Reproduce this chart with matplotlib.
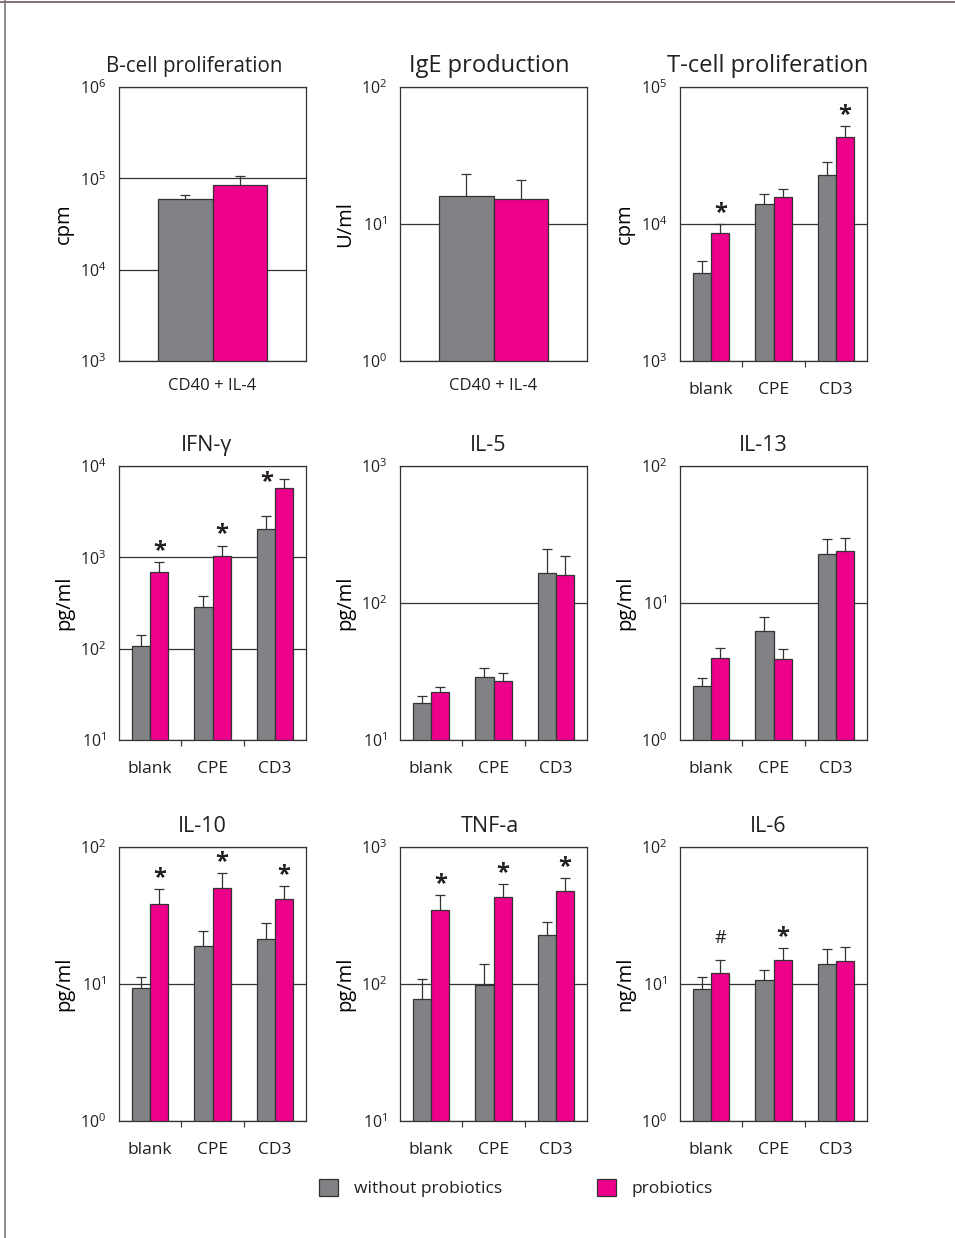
import numpy as np
import matplotlib
matplotlib.use("Agg")
import matplotlib.pyplot as plt
from matplotlib.ticker import LogLocator, NullLocator
from matplotlib.patches import Patch
from matplotlib.lines import Line2D

plt.rcParams['font.family'] = ['Open Sans', 'DejaVu Sans']
plt.rcParams['text.color'] = '#231f20'
plt.rcParams['xtick.color'] = '#3c3c3c'
plt.rcParams['ytick.color'] = '#3c3c3c'
plt.rcParams['xtick.labelcolor'] = '#231f20'
plt.rcParams['ytick.labelcolor'] = '#231f20'

GRAY = '#808285'
PINK = '#ec008c'
EDGE = '#333333'

stim_groups = ['blank', 'CPE', 'CD3']
stim_single = ['CD40 + IL-4']

# means and upper error (SD) for cultures without / with probiotics
bcell_without, bcell_without_sd = [59600], [6300]
bcell_with, bcell_with_sd = [85500], [20900]

ige_without, ige_without_sd = [16.0], [7.1]
ige_with, ige_with_sd = [15.3], [5.7]

tcell_without, tcell_without_sd = [4370, 13900, 22800], [970, 2650, 5700]
tcell_with, tcell_with_sd = [8550, 15800, 43400], [1400, 2100, 8300]
tcell_marks = ['*', '', '*']

ifng_without, ifng_without_sd = [107, 285, 2040], [34, 95, 770]
ifng_with, ifng_with_sd = [693, 1042, 5730], [201, 301, 1410]
ifng_marks = ['*', '*', '*']

il5_without, il5_without_sd = [18.5, 28.8, 165], [2.4, 4.7, 82]
il5_with, il5_with_sd = [22.5, 26.8, 159], [1.8, 4.2, 60]
il5_marks = ['', '', '']

il13_without, il13_without_sd = [2.49, 6.20, 22.9], [0.33, 1.74, 6.4]
il13_with, il13_with_sd = [3.99, 3.88, 24.1], [0.74, 0.72, 5.9]
il13_marks = ['', '', '']

il10_without, il10_without_sd = [9.42, 18.9, 21.3], [1.78, 5.3, 6.5]
il10_with, il10_with_sd = [38.4, 50.6, 41.5], [10.8, 14.2, 10.2]
il10_marks = ['*', '*', '*']

tnf_without, tnf_without_sd = [77.3, 97.8, 228], [30.7, 41.2, 55]
tnf_with, tnf_with_sd = [348, 433, 479], [95, 106, 114]
tnf_marks = ['*', '*', '*']

il6_without, il6_without_sd = [9.22, 10.7, 14.0], [1.98, 1.9, 3.9]
il6_with, il6_with_sd = [12.1, 14.9, 14.6], [2.9, 3.4, 4.1]
il6_marks = ['#', '*', '']

# title, y label, y range, groups, data..., title size, title x shift (px)
panels = [
    ('B-cell proliferation', 'cpm', (1e3, 1e6), stim_single,
     bcell_without, bcell_without_sd, bcell_with, bcell_with_sd, [''], 14.8, -18),
    ('IgE production', 'U/ml', (1e0, 1e2), stim_single,
     ige_without, ige_without_sd, ige_with, ige_with_sd, [''], 17, -4),
    ('T-cell proliferation', 'cpm', (1e3, 1e5), stim_groups,
     tcell_without, tcell_without_sd, tcell_with, tcell_with_sd, tcell_marks, 17, -6),
    ('IFN-γ', 'pg/ml', (1e1, 1e4), stim_groups,
     ifng_without, ifng_without_sd, ifng_with, ifng_with_sd, ifng_marks, 15.5, -6),
    ('IL-5', 'pg/ml', (1e1, 1e3), stim_groups,
     il5_without, il5_without_sd, il5_with, il5_with_sd, il5_marks, 15.5, -5),
    ('IL-13', 'pg/ml', (1e0, 1e2), stim_groups,
     il13_without, il13_without_sd, il13_with, il13_with_sd, il13_marks, 15.5, -10),
    ('IL-10', 'pg/ml', (1e0, 1e2), stim_groups,
     il10_without, il10_without_sd, il10_with, il10_with_sd, il10_marks, 15.5, -10),
    ('TNF-a', 'pg/ml', (1e1, 1e3), stim_groups,
     tnf_without, tnf_without_sd, tnf_with, tnf_with_sd, tnf_marks, 15.5, -4),
    ('IL-6', 'ng/ml', (1e0, 1e2), stim_groups,
     il6_without, il6_without_sd, il6_with, il6_with_sd, il6_marks, 15.5, -5),
]

W, H = 955, 1238
fig = plt.figure(figsize=(W / 100, H / 100), dpi=100)

col_left = [119, 400, 680]
row_top = [87, 466, 847]
ax_w, ax_h = 187, 274


def upper_errorbar(ax, xs, ys, err):
    eb = ax.errorbar(xs, ys, yerr=[np.zeros(len(xs)), err], fmt='none', ecolor=EDGE,
                     elinewidth=0.9, capsize=3.6, capthick=0.9, zorder=4)
    eb[1][0].set_visible(False)  # no cap at the bar top


w = 0.29
for i, (title, ylab, ylim, cats, m0, s0, m1, s1, marks, tsize, tshift) in enumerate(panels):
    r, c = divmod(i, 3)
    ax = fig.add_axes([col_left[c] / W, 1 - (row_top[r] + ax_h) / H, ax_w / W, ax_h / H])
    n = len(cats)
    x = np.arange(n) + 0.5
    ax.set_yscale('log')

    ax.bar(x - w / 2, m0, w, color=GRAY, edgecolor=EDGE, linewidth=0.9, zorder=2)
    ax.bar(x + w / 2, m1, w, color=PINK, edgecolor=EDGE, linewidth=0.9, zorder=2)
    m0, s0, m1, s1 = map(np.asarray, (m0, s0, m1, s1))
    upper_errorbar(ax, x - w / 2, m0, s0)
    upper_errorbar(ax, x + w / 2, m1, s1)
    ax.set_ylim(*ylim)
    ax.set_xlim(0, n)

    # significance marks over the probiotics bars
    dec_px = ax_h / np.log10(ylim[1] / ylim[0])
    for xi, top, mk in zip(x + w / 2, m1 + s1, marks):
        if not mk:
            continue
        if top * 10 ** (24 / dec_px) > ylim[1]:
            ax.annotate(mk, (xi, top), xytext=(-12.5, -2), textcoords='offset points',
                        ha='center', va='center', fontsize=17, fontweight='bold')
        elif mk == '*':
            ax.annotate(mk, (xi, top), xytext=(0, 8), textcoords='offset points',
                        ha='center', va='center', fontsize=17, fontweight='bold')
        else:
            ax.annotate(mk, (xi, top), xytext=(0, 16), textcoords='offset points',
                        ha='center', va='center', fontsize=13)

    ax.yaxis.set_major_locator(LogLocator(base=10, numticks=10))
    ax.yaxis.set_minor_locator(NullLocator())
    ax.tick_params(axis='y', length=0, pad=9, labelsize=11.5)
    ax.yaxis.grid(True, which='major', color=EDGE, linewidth=0.9, zorder=1)
    ax.set_axisbelow(True)

    # group labels on major ticks, short separators on minor ticks
    ax.set_xticks(x, cats)
    if n > 1:
        ax.set_xticks(np.arange(1, n), minor=True)
        ax.tick_params(axis='x', which='minor', length=4, width=0.9, direction='out')
        ax.tick_params(axis='x', which='major', length=0, pad=15, labelsize=12.5)
    else:
        ax.tick_params(axis='x', length=0, pad=12, labelsize=12)

    for sp in ax.spines.values():
        sp.set_color(EDGE)
        sp.set_linewidth(0.9)
        sp.set_zorder(5)

    ax.set_title(title, fontsize=tsize, pad=11, x=0.5 + tshift / ax_w)
    ax.set_ylabel(ylab, fontsize=14.5)
    ax.yaxis.set_label_coords(-45 / ax_w, 0.5)

legend_handles = [Patch(facecolor=GRAY, edgecolor=EDGE, linewidth=0.9, label='without probiotics'),
                  Patch(facecolor=PINK, edgecolor=EDGE, linewidth=0.9, label='probiotics')]
fig.legend(handles=legend_handles, loc='center', bbox_to_anchor=(516 / W, 1 - 1188 / H),
           ncol=2, frameon=False, fontsize=12.5, handlelength=1.1, handleheight=1.1,
           handletextpad=0.9, columnspacing=5.5)

# page frame lines
fig.add_artist(Line2D([0, 1], [1 - 2 / H, 1 - 2 / H], color='#6d5a63', linewidth=1.2))
fig.add_artist(Line2D([5 / W, 5 / W], [0, 1], color='#7a7a7a', linewidth=1.2))

fig.savefig('out.png', dpi=100)
